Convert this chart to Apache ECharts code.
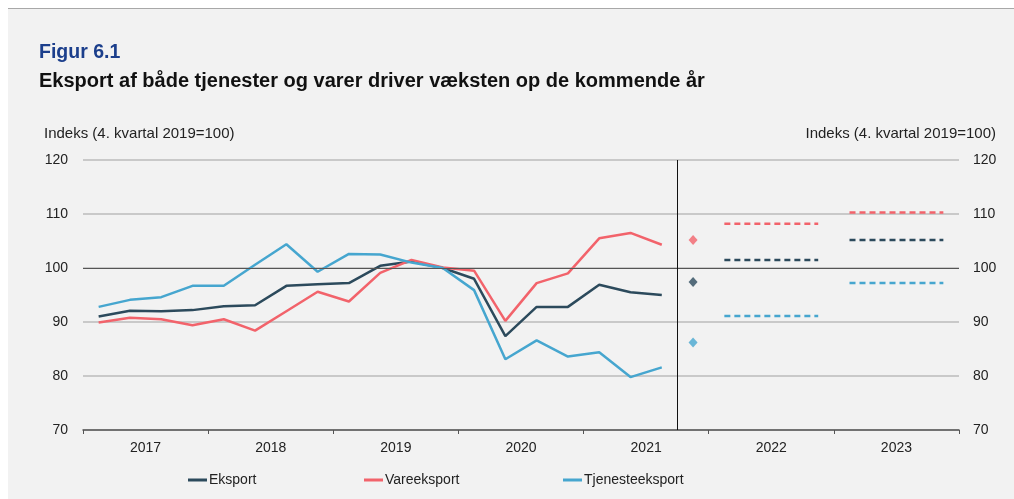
<!DOCTYPE html>
<html>
<head>
<meta charset="utf-8">
<script src="https://cdn.jsdelivr.net/npm/echarts@6/dist/echarts.min.js"></script>
<style>
  html, body { margin: 0; padding: 0; background: #ffffff; overflow: hidden; }
  #chart { width: 1014px; height: 499px; }
</style>
</head>
<body>
<div id="chart"></div>
<script>
// Year labels on the x axis; each year holds four quarters
const years = ['2017', '2018', '2019', '2020', '2021', '2022', '2023'];

// Quarterly index values, 2017 Q1 – 2021 Q3 (4. kvartal 2019 = 100)
const eksport = [91.0, 92.1, 92.0, 92.2, 92.9, 93.1, 96.7, 97.0, 97.2, 100.4, 101.2, 100.0, 98.0, 87.4, 92.8, 92.8, 96.9, 95.5, 95.0];
const vareeksport = [89.9, 90.8, 90.5, 89.4, 90.5, 88.4, 92.0, 95.6, 93.8, 99.1, 101.5, 100.1, 99.5, 90.2, 97.2, 99.0, 105.5, 106.5, 104.3];
const tjenesteeksport = [92.8, 94.1, 94.6, 96.7, 96.7, 100.6, 104.4, 99.3, 102.6, 102.5, 101.0, 100.0, 95.9, 83.1, 86.6, 83.6, 84.4, 79.8, 81.6];

// Estimate for 2021 Q4
const q4_2021 = { eksport: 97.4, vareeksport: 105.2, tjenesteeksport: 86.2 };

// Annual forecasts
const forecast2022 = { eksport: 101.5, vareeksport: 108.2, tjenesteeksport: 91.1 };
const forecast2023 = { eksport: 105.2, vareeksport: 110.3, tjenesteeksport: 97.2 };

const yTicks = [70, 80, 90, 100, 110, 120];

const colors = { eksport: '#2c4a5c', vareeksport: '#f2636b', tjenesteeksport: '#46a6cf' };
const names = { eksport: 'Eksport', vareeksport: 'Vareeksport', tjenesteeksport: 'Tjenesteeksport' };
const history = { eksport, vareeksport, tjenesteeksport };

const FONT = '"Liberation Sans", Arial, sans-serif';

// quarter index i (0 = 2017 Q1) -> position at the centre of that quarter
const qx = i => i + 0.5;

const keys = ['eksport', 'vareeksport', 'tjenesteeksport'];
const series = [];

keys.forEach(k => {
  series.push({
    name: names[k],
    type: 'line',
    xAxisIndex: 1,
    data: history[k].map((v, i) => [qx(i), v]),
    showSymbol: false,
    symbol: 'none',
    lineStyle: { color: colors[k], width: 2.5 },
    itemStyle: { color: colors[k] },
    z: 3
  });
});

keys.forEach(k => {
  series.push({
    name: names[k] + ' 2021K4',
    type: 'scatter',
    xAxisIndex: 1,
    symbol: 'diamond',
    symbolSize: [9, 10],
    data: [[qx(19), q4_2021[k]]],
    itemStyle: { color: colors[k] },
    z: 4
  });
});

keys.forEach(k => {
  series.push({
    name: names[k] + ' prognose',
    type: 'line',
    xAxisIndex: 1,
    symbol: 'none',
    connectNulls: false,
    data: [
      [qx(20), forecast2022[k]], [qx(23), forecast2022[k]],
      [24, '-'],
      [qx(24), forecast2023[k]], [qx(27), forecast2023[k]]
    ],
    lineStyle: { color: colors[k], width: 2.5, type: [6, 4] },
    z: 3
  });
});

// Reference lines: index 100 and the split between history and forecast
series.push({
  type: 'line',
  xAxisIndex: 1,
  data: [],
  silent: true,
  markLine: {
    silent: true,
    symbol: 'none',
    label: { show: false },
    animation: false,
    data: [
      { yAxis: 100, lineStyle: { color: '#555555', width: 1.2, type: 'solid' } },
      { xAxis: 19, lineStyle: { color: '#111111', width: 1, type: 'solid' } }
    ]
  },
  z: 2
});

// One legend block per series so each entry sits at its own spot
const legendLefts = [188, 364, 563];
const legends = keys.map((k, i) => ({
  data: [names[k]],
  left: legendLefts[i],
  top: 473,
  padding: 0,
  icon: 'rect',
  itemWidth: 19,
  itemHeight: 3,
  textStyle: { fontFamily: FONT, fontSize: 14, color: '#222222', padding: [0, 0, 0, -3] }
}));

const chart = echarts.init(document.getElementById('chart'), null, { renderer: 'canvas' });

chart.setOption({
  animation: false,
  backgroundColor: '#f2f2f2',
  textStyle: { fontFamily: FONT },
  graphic: [
    { type: 'rect', shape: { x: 0, y: 0, width: 1014, height: 8 }, style: { fill: '#ffffff' }, z: 0 },
    { type: 'rect', shape: { x: 0, y: 8, width: 8, height: 491 }, style: { fill: '#ffffff' }, z: 0 },
    { type: 'line', shape: { x1: 8, y1: 8.5, x2: 1014, y2: 8.5 }, style: { stroke: '#a8a8a8', lineWidth: 1 }, z: 1 },
    { type: 'text', x: 39, y: 52.5, style: { text: 'Figur 6.1', font: 'bold 19.5px ' + FONT, fill: '#1c3f8c', textVerticalAlign: 'middle' } },
    { type: 'text', x: 39, y: 81.5, style: { text: 'Eksport af både tjenester og varer driver væksten op de kommende år', font: 'bold 20px ' + FONT, fill: '#111111', textVerticalAlign: 'middle' } },
    { type: 'text', x: 44, y: 134, style: { text: 'Indeks (4. kvartal 2019=100)', font: '15px ' + FONT, fill: '#222222', textVerticalAlign: 'middle' } },
    { type: 'text', x: 996, y: 134, style: { text: 'Indeks (4. kvartal 2019=100)', font: '15px ' + FONT, fill: '#222222', textAlign: 'right', textVerticalAlign: 'middle' } }
  ],
  grid: { left: 83, right: 55, top: 160, bottom: 69, containLabel: false },
  legend: legends,
  xAxis: [
    {
      type: 'category',
      data: years,
      boundaryGap: true,
      axisLine: { lineStyle: { color: '#555555', width: 1.5 } },
      axisTick: { show: true, length: 4, lineStyle: { color: '#555555' } },
      axisLabel: { fontFamily: FONT, fontSize: 14, color: '#222222', margin: 11 },
      splitLine: { show: false }
    },
    {
      type: 'value',
      min: 0,
      max: 28,
      show: false
    }
  ],
  yAxis: [
    {
      type: 'value',
      position: 'left',
      min: yTicks[0],
      max: yTicks[yTicks.length - 1],
      interval: 10,
      axisLine: { show: false },
      axisTick: { show: false },
      axisLabel: { fontFamily: FONT, fontSize: 14, color: '#222222', margin: 15 },
      splitLine: { lineStyle: { color: '#c9c9c9', width: 2 } }
    },
    {
      type: 'value',
      position: 'right',
      min: yTicks[0],
      max: yTicks[yTicks.length - 1],
      interval: 10,
      axisLine: { show: false },
      axisTick: { show: false },
      axisLabel: { fontFamily: FONT, fontSize: 14, color: '#222222', margin: 14 },
      splitLine: { show: false }
    }
  ],
  series
});
</script>
</body>
</html>
